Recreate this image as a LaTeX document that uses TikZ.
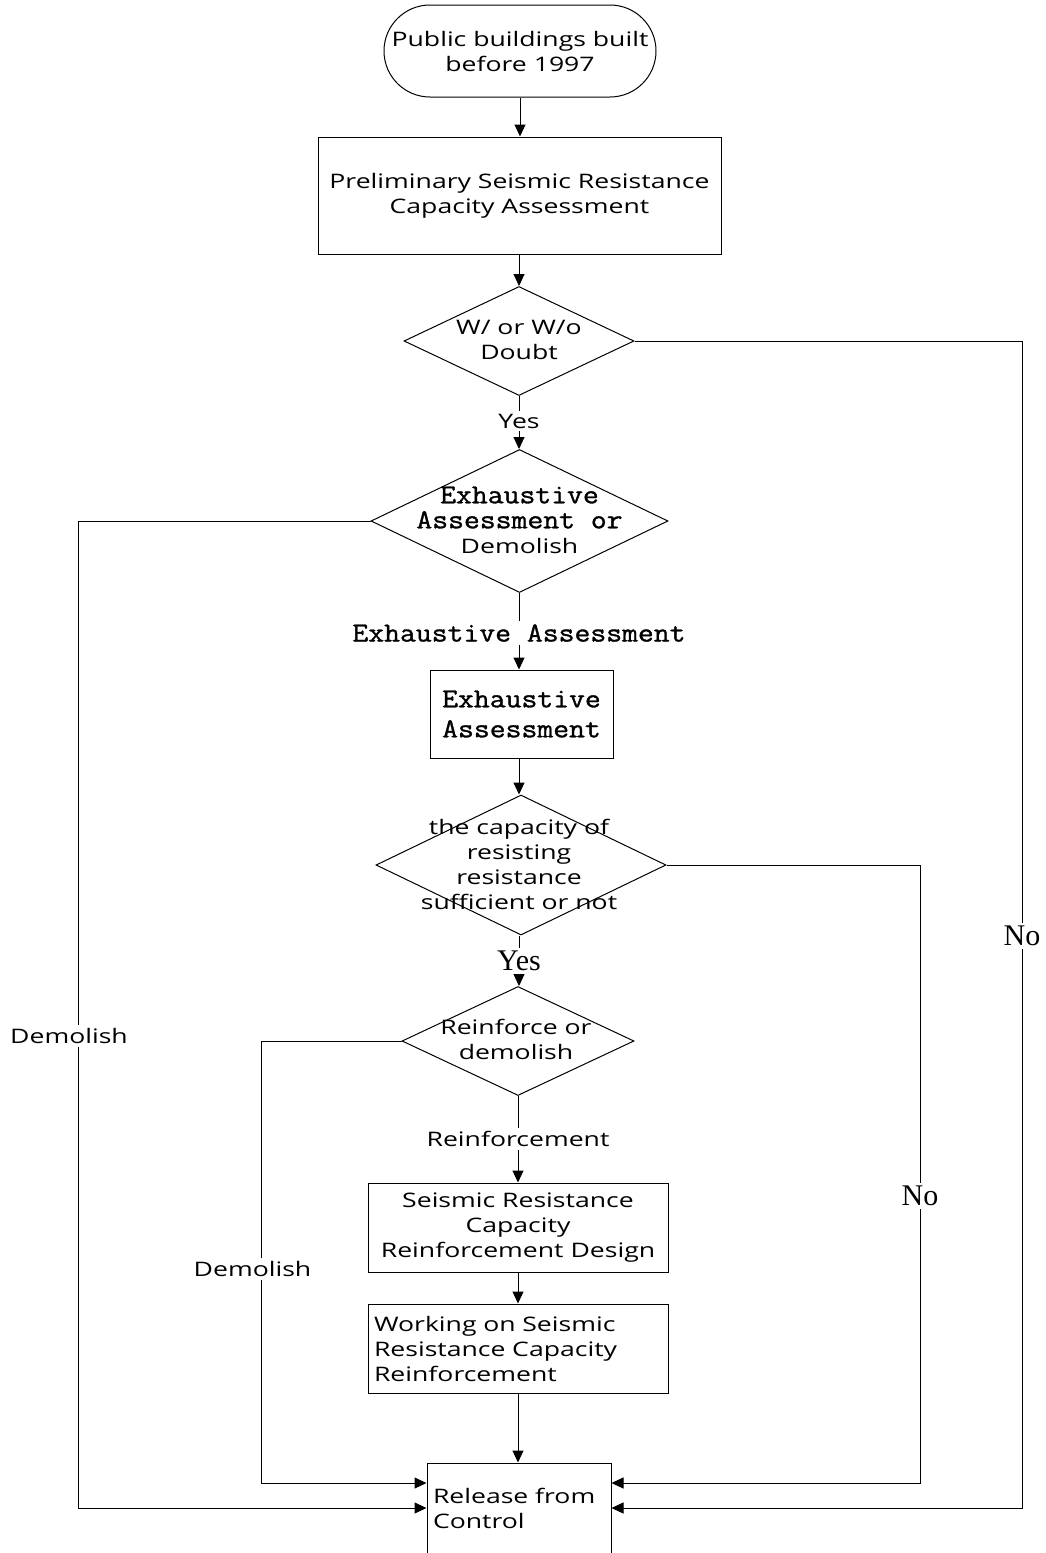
\documentclass[tikz,border=0pt]{standalone}
\usepackage{fontspec}
\setmainfont{Open Sans}[FakeStretch=1.33]
\newfontfamily\monofont{Latin Modern Mono}[FakeStretch=1.12,FakeBold=1.2]
\newfontfamily\seriffont{Liberation Serif}
\usetikzlibrary{arrows.meta,positioning,shapes.geometric}
\newcommand{\mtxt}[1]{{\monofont\fontsize{27.5}{25}\selectfont #1}}

\begin{document}
\begin{tikzpicture}[x=1pt,y=-1pt,
    every node/.style={font=\fontsize{20}{25}\selectfont},
    line/.style={line width=1pt},
    arr/.style={line width=1pt,-{Triangle[length=12pt,width=11pt]}},
    box/.style={draw,line width=1pt,align=center,inner sep=5pt},
    decision/.style={draw,diamond,line width=1pt,inner sep=0pt},
    lbl/.style={inner sep=3pt},
    mono/.style={font=\fontsize{27.5}{30}\selectfont\monofont},
    big/.style={font=\fontsize{30}{32}\selectfont\seriffont}]
    \useasboundingbox (0,0) rectangle (1046,1553);

    % Start
    \node[draw,line width=1pt,rounded corners=46pt,minimum width=272pt,minimum height=92pt,align=center] (start) at (520,51) {Public buildings built\\before 1997};

    % Preliminary assessment
    \node[box,minimum width=403pt,minimum height=117pt] (prelim) at (519.5,195.5) {Preliminary Seismic Resistance\\Capacity Assessment};

    % Decisions and steps down the middle
    \node[decision,minimum width=230pt,minimum height=109pt] (doubt) at (519,341) {};
    \node[align=center] (doubt-t) at (519,340) {W/ or W/o\\Doubt};
    \node[lbl] (yes1) at (519,421) {Yes};

    \node[decision,minimum width=297pt,minimum height=143pt] (exdem) at (519.5,521) {};
    \node[align=center] (exdem-t) at (519.5,520) {\mtxt{Exhaustive}\\\mtxt{Assessment or}\\Demolish};
    \node[lbl,mono] (exlbl) at (519,633) {Exhaustive Assessment};

    \node[box,mono,minimum width=183pt,minimum height=88pt] (exass) at (521.5,714) {Exhaustive\\Assessment};

    \node[decision,minimum width=290pt,minimum height=140pt] (suff) at (521,865) {};
    \node[align=center] (suff-t) at (519,864) {the capacity of\\resisting\\resistance\\sufficient or not};
    \node[lbl,big] (yes2) at (519,961) {Yes};

    \node[decision,minimum width=232pt,minimum height=109pt] (reindem) at (518,1041) {};
    \node[align=center] (reindem-t) at (516,1039) {Reinforce or\\demolish};
    \node[lbl] (reinlbl) at (518,1139) {Reinforcement};

    \node[box,minimum width=300pt,minimum height=89pt] (design) at (518,1227.5) {Seismic Resistance\\Capacity\\Reinforcement Design};
    \node[box,minimum width=300pt,minimum height=89pt,align=left,text width=288pt] (work) at (518,1348.5) {Working on Seismic\\Resistance Capacity\\Reinforcement};
    \node[box,minimum width=184pt,minimum height=90pt,align=left,text width=172pt] (release) at (519,1508) {Release from\\Control};

    % Side labels
    \node[lbl,big] (no1) at (1022,936) {No};
    \node[lbl,big] (no2) at (920,1196) {No};
    \node[lbl] (dem1) at (69,1036) {Demolish};
    \node[lbl] (dem2) at (252.5,1269) {Demolish};

    % Main column
    \draw[arr] (start.south) -- (start.south |- prelim.north);
    \draw[arr] (prelim.south -| yes1) -- (doubt.north);
    \draw[line] (doubt.south) -- (yes1.north);
    \draw[arr] (yes1.south) -- (yes1.south |- exdem.north);
    \draw[line] (exdem.south) -- (exdem.south |- exlbl.north);
    \draw[arr] (exlbl.south) -- (exlbl.south |- exass.north);
    \draw[arr] (exass.south -| exlbl) -- (exlbl |- suff.north);
    \draw[line] (suff.south -| yes2) -- (yes2.north);
    \draw[arr] (yes2.south) -- (yes2.south |- reindem.north);
    \draw[line] (reindem.south) -- (reinlbl.north);
    \draw[arr] (reinlbl.south) -- (reinlbl.south |- design.north);
    \draw[arr] (design.south) -- (work.north);
    \draw[arr] (work.south) -- (work.south |- release.north);

    % Branches to release
    \draw[line] (doubt.east) -| (no1.north);
    \draw[arr] (no1.south) |- (release.east);
    \draw[line] (suff.east) -| (no2.north);
    \draw[arr] (no2.south) |- ([yshift=25pt]release.east);
    \draw[line] (exdem.west) -| ([xshift=9pt]dem1.north);
    \draw[arr] ([xshift=9pt]dem1.south) |- (release.west);
    \draw[line] (reindem.west) -| ([xshift=8.5pt]dem2.north);
    \draw[arr] ([xshift=8.5pt]dem2.south) |- ([yshift=25pt]release.west);
\end{tikzpicture}
\end{document}
